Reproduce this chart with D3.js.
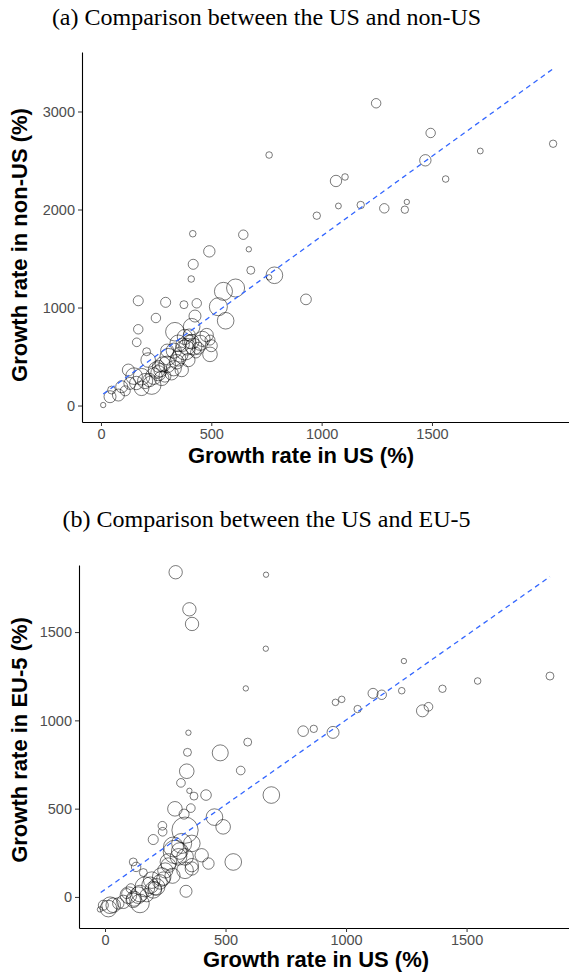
<!DOCTYPE html>
<html>
<head>
<meta charset="utf-8">
<script src="https://cdn.jsdelivr.net/npm/d3@7"></script>
<style>
  body { margin: 0; background: #fff; }
</style>
</head>
<body>
<div id="chart"></div>
<script>

// [US growth %, other growth %, bubble size]
var pointsNonUS = [
  [1247, 3084, 3.1], [1494, 2781, 3.1], [762, 2556, 1.5], [1470, 2502, 4.5],
  [1719, 2597, 1.2], [2049, 2671, 1.9], [1065, 2291, 4.5], [1106, 2332, 1.5],
  [1562, 2311, 1.5], [1076, 2036, 1.2], [1177, 2046, 1.9], [978, 1937, 1.9],
  [1284, 2012, 3.1], [1377, 1998, 1.9], [1386, 2077, 1.0], [929, 1083, 4.0],
  [416, 1753, 1.5], [645, 1743, 3.1], [670, 1594, 1.0], [491, 1573, 4.5],
  [418, 1441, 3.5], [679, 1380, 2.2], [409, 1291, 1.5], [786, 1329, 9.6],
  [762, 1308, 1.0], [555, 1165, 11.3], [610, 1199, 11.3], [169, 1069, 3.5],
  [293, 1053, 3.5], [376, 1029, 2.2], [434, 1043, 3.1], [532, 1008, 11.3],
  [565, 865, 9.6], [249, 893, 3.1], [426, 913, 5.0], [169, 778, 3.1],
  [162, 645, 2.6], [335, 753, 12.0], [411, 804, 9.6], [479, 719, 6.2],
  [494, 522, 7.4], [350, 635, 9.6], [411, 651, 7.4], [381, 566, 13.9],
  [441, 584, 5.0], [305, 498, 9.6], [343, 447, 7.4], [396, 464, 6.2],
  [207, 549, 2.2], [214, 464, 7.4], [252, 362, 9.6], [275, 278, 7.4],
  [184, 294, 9.6], [230, 209, 12.0], [184, 176, 7.4], [366, 362, 6.2],
  [320, 329, 6.2], [131, 226, 5.0], [94, 192, 5.0], [79, 107, 5.0],
  [41, 90, 5.0], [10, 5, 1.0], [48, 158, 2.2], [494, 668, 3.5],
  [124, 362, 5.0], [380, 700, 8.0], [420, 600, 9.6], [360, 520, 8.0],
  [300, 560, 6.0], [280, 420, 8.0], [240, 300, 9.6], [200, 250, 8.0],
  [160, 230, 6.2], [260, 400, 5.0], [330, 380, 8.0], [460, 680, 8.0],
  [400, 720, 5.0], [430, 540, 4.0], [150, 300, 9.6], [110, 150, 3.5],
  [290, 300, 5.0], [500, 610, 5.0], [260, 330, 8.0], [300, 420, 9.6],
  [350, 480, 8.0], [390, 600, 9.6], [330, 560, 8.0], [270, 360, 6.2],
  [220, 260, 6.2], [400, 650, 6.2], [450, 640, 8.0], [370, 620, 6.2]
];

var pointsEU5 = [
  [293, 1839, 6.2], [668, 1825, 1.0], [350, 1629, 6.2], [361, 1546, 6.2],
  [667, 1406, 1.0], [584, 1181, 1.0], [822, 939, 3.9], [346, 930, 1.0],
  [592, 877, 2.2], [342, 819, 2.2], [478, 816, 8.9], [339, 712, 7.4],
  [563, 716, 2.6], [315, 646, 2.6], [350, 601, 1.0], [369, 571, 2.2],
  [419, 577, 3.9], [690, 577, 9.6], [290, 499, 7.4], [356, 503, 2.6],
  [328, 469, 3.5], [454, 452, 9.6], [490, 397, 7.4], [238, 403, 2.6],
  [239, 369, 2.6], [200, 325, 3.5], [332, 378, 24.0], [284, 283, 13.9],
  [360, 303, 9.6], [305, 227, 9.6], [401, 236, 6.2], [429, 189, 4.5],
  [532, 198, 9.6], [263, 198, 9.6], [360, 161, 6.2], [336, 32, 5.0],
  [117, 198, 2.2], [129, 170, 3.1], [159, 138, 2.2], [107, 48, 3.1],
  [187, 66, 9.6], [228, 85, 7.4], [145, 19, 9.6], [145, -37, 12.0],
  [117, -19, 7.4], [76, -28, 6.2], [34, -47, 7.4], [14, -66, 9.6],
  [-21, -71, 1.0], [55, -37, 4.5], [207, 48, 6.2], [242, 104, 6.2],
  [173, 10, 6.2], [90, 19, 3.5], [1240, 1336, 1.0], [1846, 1251, 2.2],
  [1546, 1223, 1.5], [1400, 1179, 1.9], [1231, 1168, 1.5], [1112, 1153, 3.5],
  [1148, 1145, 3.1], [956, 1102, 1.5], [982, 1119, 1.5], [1048, 1064, 1.9],
  [1317, 1054, 5.0], [1342, 1077, 2.6], [866, 952, 1.9], [946, 932, 5.0],
  [318, 303, 13.9], [290, 255, 19.0], [332, 227, 9.6], [263, 180, 7.4],
  [332, 151, 9.6], [360, 180, 6.2], [194, 95, 9.6], [166, 57, 13.9],
  [214, 57, 9.6], [138, 10, 9.6], [97, 10, 9.6], [21, -47, 9.6],
  [-7, -47, 3.5], [235, 113, 12.0], [250, 150, 8.0], [310, 260, 9.6],
  [280, 120, 8.0], [200, 40, 9.6], [120, -10, 8.0]
];

// fitted lines (start / end)
var fitNonUS = [[10, 117], [2049, 3436]];
var fitEU5 = [[-18, 25], [1846, 1814]];

var xTicks = [0, 500, 1000, 1500];
var yTicksNonUS = [0, 1000, 2000, 3000];
var yTicksEU5 = [0, 500, 1000, 1500];

var width = 569, height = 976;

var svg = d3.select("#chart")
  .append("svg")
    .attr("width", width)
    .attr("height", height);

var r = d3.scaleSqrt().domain([0, 20]).range([0, 12]);

var panels = [
  { title: "(a) Comparison between the US and non-US", titleY: 25,
    ylab: "Growth rate in non-US (%)", ylabY: 245, xlabX: 301, xlabY: 463,
    left: 82, right: 569, top: 52, bottom: 422,
    xDomain: [-86, 2121], yDomain: [-168, 3607],
    points: pointsNonUS, fit: fitNonUS, yTicks: yTicksNonUS },
  { title: "(b) Comparison between the US and EU-5", titleY: 527,
    ylab: "Growth rate in EU-5 (%)", ylabY: 740, xlabX: 316, xlabY: 967,
    left: 79, right: 569, top: 565, bottom: 928,
    xDomain: [-108, 1925], yDomain: [-176, 1880],
    points: pointsEU5, fit: fitEU5, yTicks: yTicksEU5 }
];

panels.forEach(function(p) {
  var x = d3.scaleLinear().domain(p.xDomain).range([p.left, p.right]);
  var y = d3.scaleLinear().domain(p.yDomain).range([p.bottom, p.top]);

  svg.append("text")
    .attr("x", 266.5).attr("y", p.titleY)
    .attr("text-anchor", "middle")
    .style("font-family", "'Liberation Serif', 'Times New Roman', serif")
    .style("font-size", "24px")
    .text(p.title);

  svg.selectAll(null)
    .data(p.points)
    .enter()
    .append("circle")
      .attr("cx", function(d) { return x(d[0]); })
      .attr("cy", function(d) { return y(d[1]); })
      .attr("r", function(d) { return r(d[2]); })
      .style("fill", "none")
      .style("stroke", "#000")
      .style("stroke-opacity", 0.58)
      .style("stroke-width", 0.9);

  svg.append("path")
    .datum(p.fit)
    .attr("d", d3.line().x(function(d) { return x(d[0]); }).y(function(d) { return y(d[1]); }))
    .style("fill", "none")
    .style("stroke", "#3366FF")
    .style("stroke-width", 1.3)
    .style("stroke-dasharray", "5,4");

  var gx = svg.append("g")
    .attr("transform", "translate(0," + p.bottom + ")")
    .call(d3.axisBottom(x).tickValues(xTicks).tickFormat(d3.format("d"))
      .tickSizeInner(4).tickSizeOuter(0).tickPadding(3));
  var gy = svg.append("g")
    .attr("transform", "translate(" + p.left + ",0)")
    .call(d3.axisLeft(y).tickValues(p.yTicks).tickFormat(d3.format("d"))
      .tickSizeInner(4).tickSizeOuter(0).tickPadding(3));

  [gx, gy].forEach(function(g) {
    g.select(".domain").style("stroke", "#000").style("stroke-width", 1.1);
    g.selectAll(".tick line").style("stroke", "#333");
    g.selectAll(".tick text")
      .style("fill", "#4d4d4d")
      .style("font-family", "'Liberation Sans', Arial, sans-serif")
      .style("font-size", "14.5px");
  });

  svg.append("text")
    .attr("x", p.xlabX).attr("y", p.xlabY)
    .attr("text-anchor", "middle")
    .style("font-family", "'Liberation Sans', Arial, sans-serif")
    .style("font-weight", "bold")
    .style("font-size", "22px")
    .text("Growth rate in US (%)");

  svg.append("text")
    .attr("transform", "translate(27," + p.ylabY + ") rotate(-90)")
    .attr("text-anchor", "middle")
    .style("font-family", "'Liberation Sans', Arial, sans-serif")
    .style("font-weight", "bold")
    .style("font-size", "22px")
    .text(p.ylab);
});

</script>
</body>
</html>
